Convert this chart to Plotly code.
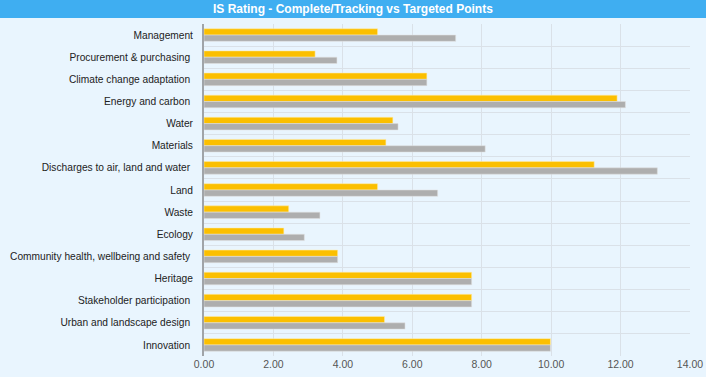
import plotly.graph_objects as go

categories = [
    "Management",
    "Procurement & purchasing ",
    "Climate change adaptation ",
    "Energy and carbon ",
    "Water",
    "Materials",
    "Discharges to air, land and water ",
    "Land",
    "Waste",
    "Ecology",
    "Community health, wellbeing and safety ",
    "Heritage",
    "Stakeholder participation ",
    "Urban and landscape design ",
    "Innovation ",
]
complete_tracking = [5.0, 3.2, 6.42, 11.9, 5.44, 5.24, 11.24, 5.0, 2.44, 2.3, 3.85, 7.71, 7.71, 5.2, 9.98]
targeted = [7.25, 3.83, 6.42, 12.14, 5.59, 8.1, 13.06, 6.73, 3.34, 2.89, 3.85, 7.71, 7.71, 5.79, 9.98]
x_ticks = [0, 2, 4, 6, 8, 10, 12, 14]
x_ticklabels = ["0.00", "2.00", "4.00", "6.00", "8.00", "10.00", "12.00", "14.00"]
title_text = "IS Rating - Complete/Tracking vs Targeted Points"

W, H = 706, 377
L, R, T, B = 204, 16, 24, 21
pw = W - L - R
ph = H - T - B

fig = go.Figure()
fig.add_trace(go.Bar(
    y=categories, x=complete_tracking, orientation="h", name="Complete/Tracking",
    marker=dict(color="#FBBF00", line=dict(color="rgba(255,236,170,0.9)", width=0.6)),
))
fig.add_trace(go.Bar(
    y=categories, x=targeted, orientation="h", name="Targeted",
    marker=dict(color="#AEAEAE", line=dict(color="rgba(225,225,225,0.9)", width=0.6)),
))

bg = "#E9F5FE"
fig.update_layout(
    width=W, height=H,
    margin=dict(l=L, r=R, t=T, b=B, pad=0, autoexpand=False),
    paper_bgcolor=bg, plot_bgcolor=bg,
    barmode="group", bargap=0.43, bargroupgap=0,
    showlegend=False,
    font=dict(family="Liberation Sans, Arial, sans-serif", size=10.2, color="#222"),
    xaxis=dict(
        range=[0, 14], tickvals=x_ticks, ticktext=x_ticklabels,
        showgrid=True, gridcolor="#DAE1E8", gridwidth=1,
        zeroline=False, showline=False, ticks="",
        tickfont=dict(size=10.5, color="#555"),
        automargin=False, fixedrange=True,
    ),
    yaxis=dict(
        autorange="reversed", type="category",
        tickson="boundaries", showgrid=True, gridcolor="#DAE1E8", gridwidth=1,
        showline=True, linecolor="#A0A4A8", linewidth=2, ticks="",
        ticklabelstandoff=7,
        tickfont=dict(size=10.2, color="#222"),
        automargin=False, fixedrange=True,
    ),
    shapes=[dict(
        type="rect", xref="paper", yref="paper",
        x0=-L / pw, x1=(W - L) / pw,
        y0=(ph + T - 18) / ph, y1=(ph + T) / ph,
        fillcolor="#3FAEF1", line=dict(width=0), layer="above",
    )],
    annotations=[dict(
        text="<b>" + title_text + "</b>", xref="paper", yref="paper",
        x=(W / 2 - L) / pw, y=(ph + T - 9) / ph,
        xanchor="center", yanchor="middle", showarrow=False,
        font=dict(size=12, color="white", family="Liberation Sans, Arial, sans-serif"),
    )],
)

fig.write_html(
    "out.html",
    config={"displayModeBar": False},
    post_script="document.body.style.margin='0';document.body.style.overflow='hidden';document.body.style.background='" + bg + "';",
)
